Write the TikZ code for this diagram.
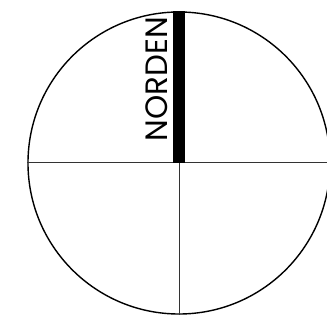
\documentclass[tikz,border=0pt]{standalone}
\usepackage{fontspec}
\setmainfont{Poppins}
\usetikzlibrary{positioning,calc}

\begin{document}
\begin{tikzpicture}[
        x=1bp, y=1bp,
        every node/.style={inner sep=0pt},
        dial/.style    ={circle, draw, line width=1.4bp, minimum size=302bp},
        axis/.style    ={line width=1bp, black!80},
        northbar/.style={fill=black},
        nordtext/.style={font=\fontsize{31}{31}\selectfont, rotate=90},
    ]
        \useasboundingbox (0,0) rectangle (327,326);
        % --- Kompass ---
        \node[dial] (dial) at (179,163) {};
        \coordinate (east) at (330,163);

        % --- Achsen ---
        \draw[axis] (dial.west) -- (east);
        \draw[axis] (dial.north) -- (dial.south);

        % --- Nordbalken ---
        \fill[northbar] ($(dial.north)+(-6,0)$) rectangle ($(dial.center)+(6,0)$);
        \node[nordtext] (norden) at ($(dial.north)+(-22,-68)$) {NORDEN};
    \end{tikzpicture}
\end{document}
